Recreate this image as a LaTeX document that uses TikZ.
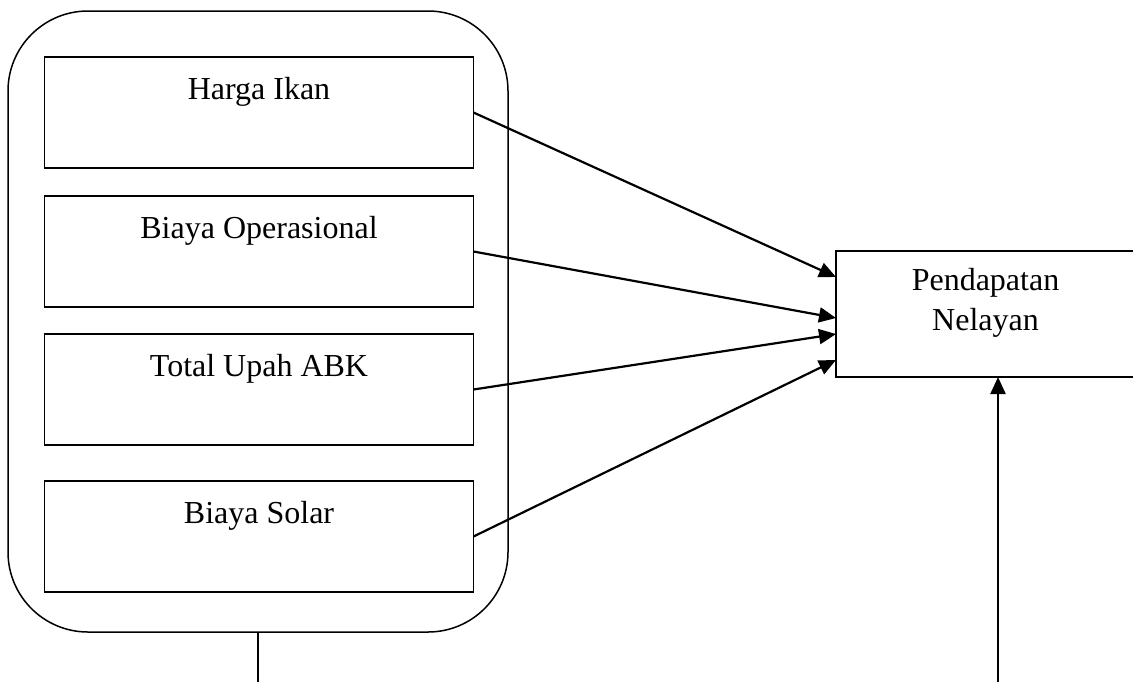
\documentclass[tikz,border=0pt]{standalone}
\usepackage{fontspec}
\setmainfont{Liberation Serif}
\usetikzlibrary{arrows.meta,
                positioning}

\begin{document}
\begin{tikzpicture}[x=0.5pt, y=-0.5pt,
node distance = 14pt,
   BOX/.style = {draw, line width=0.75pt, minimum width=214.5pt,
                 minimum height=55.5pt, inner sep=0pt, outer sep=0pt},
   GRP/.style = {draw, line width=0.75pt, rounded corners=40pt,
                 minimum width=250pt, minimum height=310.5pt, inner sep=0pt},
   LBL/.style = {anchor=north, inner sep=0pt, yshift=-10pt, align=center,
                 font=\fontsize{16}{20}\selectfont},
   ARR/.style = {line width=1.1pt, -{Triangle[length=8.5pt, width=7.5pt]}}
                    ]
\useasboundingbox (0,0) rectangle (1133,681);
\clip (0,0) rectangle (1133,681);
% left group
\node (grp)   [GRP] at (258,321.5) {};
\node (harga) [BOX, label={[LBL]north:Harga Ikan}] at (259,112.5) {};
\node (ops)   [BOX, below=of harga, label={[LBL]north:Biaya Operasional}] {};
\node (upah)  [BOX, below=13.5pt of ops, label={[LBL]north:Total Upah ABK}] {};
\node (solar) [BOX, below=18pt of upah, label={[LBL]north:Biaya Solar}] {};
% right box
\node (pend)  [BOX, minimum width=149.5pt, minimum height=63pt,
               label={[LBL, yshift=1.5pt]north:Pendapatan\\Nelayan}] at (985.5,314) {};
% arrows
\draw[ARR] (harga.east) -- ([yshift=18.5pt]pend.west);
\draw[ARR] (ops.east)   -- ([yshift=-2pt]pend.west);
\draw[ARR] (upah.east)  -- ([yshift=-10pt]pend.west);
\draw[ARR] (solar.east) -- ([yshift=-23pt]pend.west);
% lines leaving the picture
\coordinate (gout) at ([yshift=-30pt]grp.south);
\draw[line width=0.75pt] (grp.south) -- (gout);
\coordinate (pin) at (998,690);
\draw[ARR] (pin) -- (pin |- pend.south);
\end{tikzpicture}
\end{document}
